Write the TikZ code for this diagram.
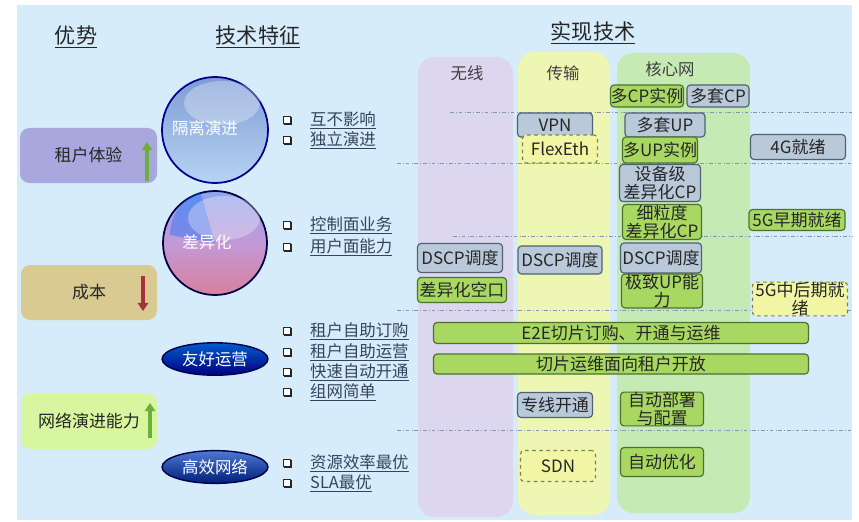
\documentclass[tikz,border=0pt]{standalone}
\usepackage{fontspec}
\setmainfont{Noto Sans CJK SC}
\usetikzlibrary{arrows.meta,shapes.geometric,shadows}

\definecolor{panelbg}{HTML}{D6ECFA}
\definecolor{wirelesscol}{HTML}{DCD6EE}
\definecolor{transcol}{HTML}{EEF6B4}
\definecolor{corecol}{HTML}{C6EAB4}
\definecolor{grayfill}{HTML}{B9C9D9}
\definecolor{grayline}{HTML}{4E6272}
\definecolor{greenfill}{HTML}{A8D862}
\definecolor{greenline}{HTML}{4C7232}
\definecolor{yellowfill}{HTML}{F2F6A4}
\definecolor{yellowline}{HTML}{7E8050}
\definecolor{itemcol}{HTML}{34445E}
\definecolor{tenantcol}{HTML}{A9A8DE}
\definecolor{costcol}{HTML}{D8CA90}
\definecolor{evolvecol}{HTML}{D8F6A0}
\definecolor{sepcol}{HTML}{8494B4}
\definecolor{arrowgreen}{HTML}{6BB03A}
\definecolor{arrowred}{HTML}{A8303C}
\definecolor{isotop}{HTML}{7E9CD4}
\definecolor{isobottom}{HTML}{B6D4F2}
\definecolor{difftop}{HTML}{8EA6EE}
\definecolor{diffbottom}{HTML}{D8809E}

\tikzset{
  sz/.style 2 args={minimum width=#1*0.3mm, minimum height=#2*0.3mm},
  techbox/.style={rounded corners=3pt, line width=1pt, align=center, inner sep=0pt,
    font=\fontsize{14.5}{15.5}\selectfont, text=black!85},
  graybox/.style={techbox, draw=grayline, fill=grayfill},
  greenbox/.style={techbox, draw=greenline, fill=greenfill},
  plannedbox/.style={techbox, draw=yellowline, fill=yellowfill, dashed},
  header/.style={font=\fontsize{18}{20}\selectfont, text=black!85},
  benefit/.style={rounded corners=8pt, inner sep=0pt, font=\fontsize{14.5}{16}\selectfont, text=black!85},
  collabel/.style={font=\fontsize{14}{16}\selectfont, text=black!75},
  feature/.style={font=\fontsize{14}{16}\selectfont, text=white},
  chk/.style={draw=black!85, fill=white, line width=0.7pt, minimum size=7.5*0.3mm, inner sep=0pt,
    drop shadow={shadow xshift=1pt, shadow yshift=-1pt, opacity=1, fill=black!85}},
  itemtext/.style={anchor=west, inner sep=0pt, font=\fontsize{14}{16}\selectfont, text=itemcol},
  sepline/.style={sepcol, dash dot, line width=0.8pt},
  bigarrow/.style={-{Triangle[length=7pt,width=9pt]}, line width=3.5pt}
}

\begin{document}
\begin{tikzpicture}[x=0.3mm, y=-0.3mm]
\useasboundingbox (0,0) rectangle (859,522);
\fill[white] (0,0) rectangle (859,522);
\fill[panelbg] (17,5) rectangle (852,520);

% headings
\node[header] (hadv) at (76,37) {\underline{优势}};
\node[header] (hfeat) at (258,37) {\underline{技术特征}};
\node[header] (himpl) at (593,33) {\underline{实现技术}};

% benefits
\node[benefit, fill=tenantcol, sz={137}{55}] (tenant) at (88.5,155.5) {租户体验};
\node[benefit, fill=costcol, sz={136}{55}] (cost) at (89,292.5) {成本};
\node[benefit, fill=evolvecol, sz={136}{56}] (evolve) at (89,421) {网络演进能力};
\draw[bigarrow, arrowgreen] (147,181) -- (147,142);
\draw[bigarrow, arrowred] (143,276) -- (143,311);
\draw[bigarrow, arrowgreen] (150,438) -- (150,403);

% features
\node[circle, draw=blue!55!black, line width=1.5pt, sz={106}{106}, top color=isotop, bottom color=isobottom] (isolate) at (215,130) {};
\fill[white, opacity=0.3] (222,103) ellipse (38 and 22);
\node[feature] (isolatetxt) at (205,128) {隔离演进};
\node[circle, draw=blue!25!black, line width=1.5pt, sz={104}{104}, top color=difftop, bottom color=diffbottom, middle color=blue!20!violet!40!white] (differ) at (215,243) {};
\fill[blue!60!cyan, opacity=0.35] (170,235) arc (180:250:46) -- (215,243) -- cycle;
\fill[white, opacity=0.3] (224,218) ellipse (36 and 22);
\node[feature] (differtxt) at (207,242) {差异化};
\node[ellipse, draw=blue!30!black, line width=1.2pt, sz={106}{26}, top color=blue!55!cyan!80!black, bottom color=blue!50!black, feature] (friendly) at (215,359) {友好运营};
\node[ellipse, draw=blue!30!black, line width=1.2pt, sz={106}{30}, top color=teal!50!blue!70!white, bottom color=teal!40!blue!60!black, feature] (efficient) at (215,467) {高效网络};

% feature items
\foreach \yy/\txt [count=\i] in {120/互不影响, 140/独立演进, 225/控制面业务, 247/用户面能力,
    331/租户自助订购, 352/租户自助运营, 372/快速自动开通, 392/组网简单, 463/资源效率最优, 483/SLA最优}{
  \node[chk] (chk\i) at (287,\yy) {};
  \node[itemtext] (item\i) at (310,\yy) {\underline{\txt}};
}

% domain columns
\fill[wirelesscol, rounded corners=14pt] (418,57) rectangle (513,517);
\fill[transcol, rounded corners=14pt] (518,52) rectangle (610,515);
\fill[corecol, rounded corners=14pt] (617,53) rectangle (750,513);
\node[collabel] (ran) at (467,73) {无线};
\node[collabel] (tn) at (563,73) {传输};
\node[collabel] (cn) at (670,69) {核心网};

% stage separators
\draw[sepline] (450,112) -- (852,112);
\draw[sepline] (397,163) -- (852,163);
\draw[sepline] (453,236) -- (852,236);
\draw[sepline] (397,310) -- (852,310);
\draw[sepline] (397,430) -- (852,430);

% isolation
\node[greenbox, sz={73}{22}] (multicp) at (647,96) {多CP实例};
\node[graybox, sz={62}{22}] (multisetcp) at (718,96) {多套CP};
\node[graybox, sz={75}{24}] (vpn) at (555,125) {VPN};
\node[plannedbox, sz={75}{28}] (flexeth) at (560,149) {FlexEth};
\node[graybox, sz={80}{24}] (multisetup) at (665,125) {多套UP};
\node[greenbox, sz={75}{26}] (multiup) at (660,150) {多UP实例};
\node[graybox, sz={95}{25}] (fourg) at (798,147) {4G就绪};

% differentiation
\node[graybox, sz={81}{37}] (devcp) at (660,183) {设备级\\差异化CP};
\node[greenbox, sz={79}{35}] (finecp) at (662,222) {细粒度\\差异化CP};
\node[greenbox, sz={96}{21}] (fivegearly) at (797,220) {5G早期就绪};
\node[graybox, sz={85}{29}] (dscpran) at (460,258) {DSCP调度};
\node[graybox, sz={84}{28}] (dscptn) at (560,260) {DSCP调度};
\node[graybox, sz={81}{30}] (dscpcn) at (661,258) {DSCP调度};
\node[greenbox, sz={89}{25}] (diffair) at (462,290) {差异化空口};
\node[greenbox, sz={81}{32}] (extremeup) at (662,291) {极致UP能\\力};
\node[plannedbox, sz={95}{26}] (fivegmid) at (800,299) {5G中后期就\\绪};

% operation
\node[greenbox, sz={375}{21}] (etoe) at (621,333) {E2E切片订购、开通与运维};
\node[greenbox, sz={375}{20}] (tenantops) at (621,364) {切片运维面向租户开放};
\node[graybox, sz={75}{25}] (leasedline) at (555,405) {专线开通};
\node[greenbox, sz={83}{30}] (autodeploy) at (662,409) {自动部署\\与配置};

% efficiency
\node[plannedbox, sz={75}{31}] (sdn) at (558,466) {SDN};
\node[greenbox, sz={83}{29}] (autoopt) at (662,462) {自动优化};
\end{tikzpicture}
\end{document}
